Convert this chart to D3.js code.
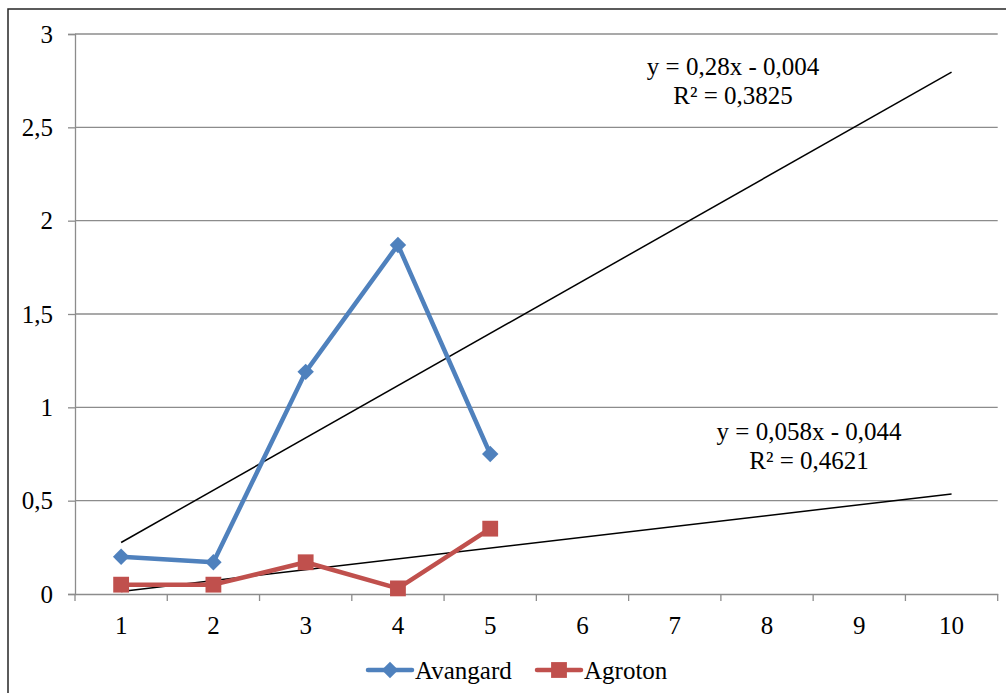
<!DOCTYPE html>
<html><head><meta charset="utf-8">
<script src="https://cdn.jsdelivr.net/npm/d3@7"></script>
<style>html,body{margin:0;padding:0;background:#fff;}svg{display:block;}</style>
</head><body>
<svg id="c" width="1006" height="693"></svg>
<script>
const categories = [1,2,3,4,5,6,7,8,9,10];
const avangard = [0.2, 0.17, 1.19, 1.87, 0.75];
const agroton = [0.05, 0.05, 0.17, 0.03, 0.35];
const yTicks = [0, 0.5, 1, 1.5, 2, 2.5, 3];
const trendAvangard = {slope: 0.28, intercept: -0.004, label: ["y = 0,28x - 0,004", "R² = 0,3825"]};
const trendAgroton = {slope: 0.058, intercept: -0.044, label: ["y = 0,058x - 0,044", "R² = 0,4621"]};
const seriesNames = ["Avangard", "Agroton"];

const svg = d3.select("#c");
const font = "Liberation Serif";
const fs = 25;
const L = 75, R = 997.7, T = 34, B = 594;
const x = d3.scaleBand().domain(categories).range([L, R]);
const cx = d => x(d) + x.bandwidth()/2;
const y = d3.scaleLinear().domain([0,3]).range([B, T]);

svg.append("rect").attr("x",8).attr("y",9).attr("width",1010).attr("height",700)
  .attr("fill","none").attr("stroke","#262626").attr("stroke-width",1.5);

svg.append("g").selectAll("line").data(yTicks.filter(d=>d>0)).join("line")
  .attr("x1",L).attr("x2",R).attr("y1",d=>y(d)).attr("y2",d=>y(d))
  .attr("stroke","#8c8c8c").attr("stroke-width",1.3);

const yAxis = d3.axisLeft(y).tickValues(yTicks).tickSize(7).tickPadding(15)
  .tickFormat(d => String(d).replace(".", ","));
const gy = svg.append("g").attr("transform",`translate(${L},0)`).call(yAxis);
gy.attr("font-family",font).attr("font-size",fs);
gy.select(".domain").attr("stroke","#8c8c8c").attr("stroke-width",1.3);
gy.selectAll(".tick line").attr("stroke","#8c8c8c").attr("stroke-width",1.3);
gy.selectAll("text").attr("fill","#000");

const xAxis = d3.axisBottom(x).tickSize(0).tickPadding(22);
const gx = svg.append("g").attr("transform",`translate(0,${B})`).call(xAxis);
gx.attr("font-family",font).attr("font-size",fs);
gx.select(".domain").attr("stroke","#8c8c8c").attr("stroke-width",1.3);
gx.selectAll("text").attr("fill","#000");
const bounds = categories.map(c => x(c)).concat([R]);
svg.append("g").selectAll("line").data(bounds).join("line")
  .attr("x1",d=>d).attr("x2",d=>d).attr("y1",B).attr("y2",B+7)
  .attr("stroke","#8c8c8c").attr("stroke-width",1.3);

[trendAvangard, trendAgroton].forEach(t => {
  const pts = [categories[0], categories[categories.length-1]];
  svg.append("line")
    .attr("x1",cx(pts[0])).attr("y1",y(t.slope*pts[0]+t.intercept))
    .attr("x2",cx(pts[1])).attr("y2",y(t.slope*pts[1]+t.intercept))
    .attr("stroke","#000").attr("stroke-width",1.5);
});

const blue = "#4F81BD", red = "#C0504D";
const line = d3.line().x((d,i)=>cx(categories[i])).y(d=>y(d));
const sq = d3.symbol().type(d3.symbolSquare).size(250)();
const dia = d3.symbol().type(d3.symbolSquare).size(135)();
function marker(sel, shape) { return sel.attr("d", shape==="sq"?sq:dia); }
function rot(shape){ return shape==="sq" ? "" : " rotate(45)"; }

function drawSeries(vals, color, shape) {
  svg.append("path").datum(vals).attr("d",line).attr("fill","none")
    .attr("stroke",color).attr("stroke-width",4.5).attr("stroke-linejoin","round").attr("stroke-linecap","round");
  marker(svg.append("g").selectAll("path").data(vals).join("path")
    .attr("transform",(d,i)=>`translate(${cx(categories[i])},${y(d)})${rot(shape)}`), shape)
    .attr("fill",color);
}
drawSeries(agroton, red, "sq");
drawSeries(avangard, blue, "dia");

function label(lines, xc, y0) {
  const t = svg.append("text").attr("font-family",font).attr("font-size",fs)
    .attr("text-anchor","middle").attr("fill","#000");
  lines.forEach((s,i)=> t.append("tspan").attr("x",xc).attr("y",y0+i*28.5).text(s));
}
label(trendAvangard.label, 733, 75);
label(trendAgroton.label, 809, 440);

const leg = [{name:seriesNames[0], color:blue, shape:"dia", x0:368},
             {name:seriesNames[1], color:red, shape:"sq", x0:537}];
leg.forEach(l => {
  const g = svg.append("g");
  g.append("line").attr("x1",l.x0).attr("x2",l.x0+44).attr("y1",670).attr("y2",670)
    .attr("stroke",l.color).attr("stroke-width",4.5).attr("stroke-linecap","round");
  marker(g.append("path").attr("transform",`translate(${l.x0+22},670)${rot(l.shape)}`), l.shape).attr("fill",l.color);
  g.append("text").attr("x",l.x0+47).attr("y",679).attr("font-family",font).attr("font-size",fs)
    .attr("fill","#000").text(l.name);
});
</script>
</body></html>
